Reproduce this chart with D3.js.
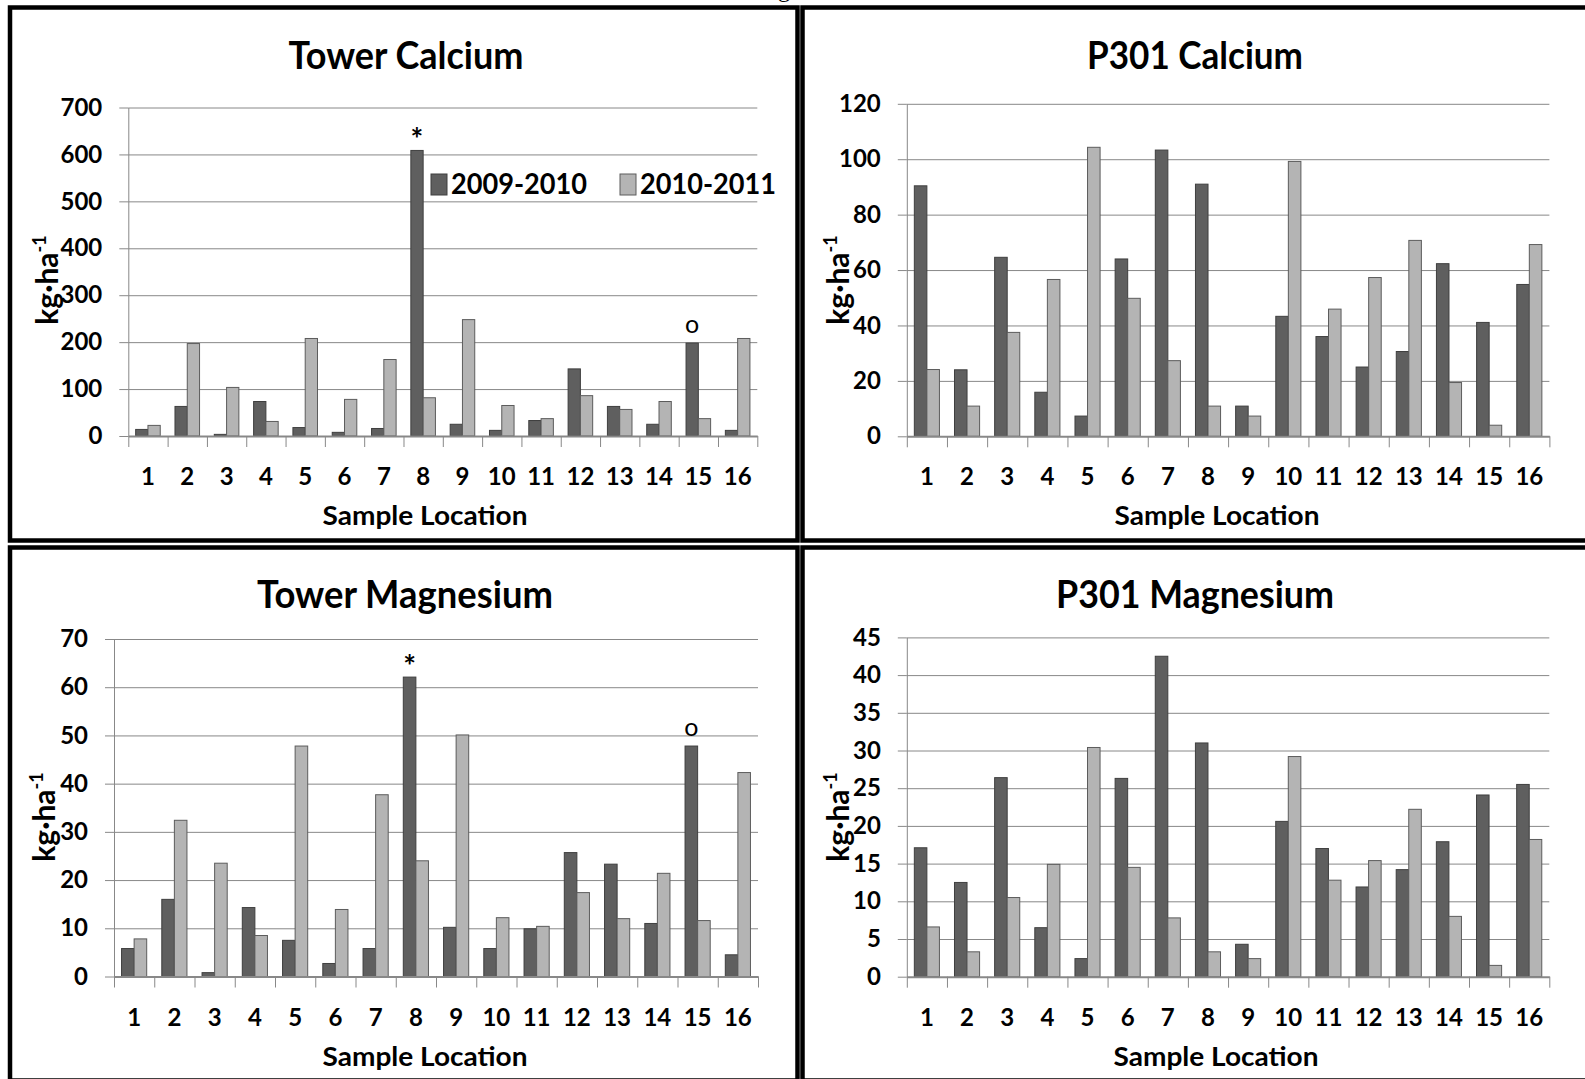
<!DOCTYPE html>
<html>
<head>
<meta charset="utf-8">
<script src="https://cdn.jsdelivr.net/npm/d3@7"></script>
<style>
  body { margin: 0; background: #fff; }
  svg { display: block; }
</style>
</head>
<body>
<svg id="fig" width="1585" height="1079"></svg>
<script>
// categories and series
const locations = ["1","2","3","4","5","6","7","8","9","10","11","12","13","14","15","16"];
const seriesNames = ["2009-2010", "2010-2011"];

// Tower Calcium (kg/ha)
const towerCa0910 = [14, 63, 3.5, 73.5, 18, 7.8, 16, 608.5, 25, 12, 33, 143, 63, 25, 198, 12];
const towerCa1011 = [22.6, 197, 103.5, 31, 207.8, 78, 163, 81.5, 248, 65, 37, 86, 56.6, 73.5, 37, 207.8];

// P301 Calcium
const p301Ca0910 = [90.4, 24, 64.6, 15.9, 7.3, 64, 103.3, 91, 10.9, 43.3, 36, 25, 30.6, 62.3, 41.1, 54.8];
const p301Ca1011 = [24.1, 10.9, 37.5, 56.6, 104.3, 49.8, 27.3, 10.9, 7.3, 99.2, 45.9, 57.3, 70.7, 19.4, 4, 69.2];

// Tower Magnesium
const towerMg0910 = [5.8, 16, 0.8, 14.3, 7.5, 2.7, 5.8, 62.1, 10.2, 5.8, 9.9, 25.7, 23.3, 11, 47.8, 4.5];
const towerMg1011 = [7.8, 32.4, 23.5, 8.5, 47.8, 13.9, 37.7, 24, 50.1, 12.2, 10.4, 17.4, 12, 21.4, 11.6, 42.3];

// P301 Magnesium
const p301Mg0910 = [17.1, 12.5, 26.4, 6.5, 2.4, 26.3, 42.5, 31, 4.3, 20.6, 17, 11.9, 14.2, 17.9, 24.1, 25.5];
const p301Mg1011 = [6.6, 3.3, 10.5, 14.9, 30.4, 14.5, 7.8, 3.3, 2.4, 29.2, 12.8, 15.4, 22.2, 8, 1.5, 18.2];

// tick labels
const towerCaTicks = [0, 100, 200, 300, 400, 500, 600, 700];
const p301CaTicks = [0, 20, 40, 60, 80, 100, 120];
const towerMgTicks = [0, 10, 20, 30, 40, 50, 60, 70];
const p301MgTicks = [0, 5, 10, 15, 20, 25, 30, 35, 40, 45];

// markers over the 2009-2010 bars
const towerMarks = [{loc: "8", sym: "*"}, {loc: "15", sym: "o"}];

const FONT = "Lato, 'Open Sans', sans-serif";
const gridColor = "#888";
const fills = ["#5f5f5f", "#b4b4b4"];
const strokes = ["#3f3f3f", "#5c5c5c"];

const svg = d3.select("#fig");

// panel frames
const frames = [
  {x: 10, y: 7.5, w: 787.5, h: 533},
  {x: 802.5, y: 7.5, w: 800, h: 533},
  {x: 10, y: 547.5, w: 787.5, h: 533},
  {x: 802.5, y: 547.5, w: 800, h: 533}
];
svg.selectAll("rect.frame").data(frames).enter().append("rect")
  .attr("class", "frame")
  .attr("x", d => d.x).attr("y", d => d.y)
  .attr("width", d => d.w).attr("height", d => d.h)
  .attr("fill", "none").attr("stroke", "#000").attr("stroke-width", 4.5);

// tail of a caption glyph cut by the top edge
svg.append("text").attr("x", 778).attr("y", -3)
  .attr("font-family", "'Liberation Serif', serif").attr("font-size", 24).text("g");

function drawPanel(p) {
  const g = svg.append("g");
  const x = d3.scaleBand().domain(locations).range([p.x0, p.x1]);
  const xs = d3.scaleBand().domain(seriesNames).range([0, x.bandwidth()]).paddingOuter(0.6);
  const xEdge = d3.scaleLinear().domain([0, locations.length]).range([p.x0, p.x1]);
  const y = d3.scaleLinear().domain([0, d3.max(p.ticks)]).range([p.y0, p.yTop]);

  // gridlines
  g.append("g").attr("transform", `translate(${p.x0},0)`)
    .call(d3.axisLeft(y).tickValues(p.ticks.slice(1)).tickSize(-(p.x1 - p.x0)).tickFormat(""))
    .call(s => s.select(".domain").remove())
    .selectAll("line").attr("stroke", gridColor);

  // y axis
  const ya = g.append("g").attr("transform", `translate(${p.x0},0)`)
    .call(d3.axisLeft(y).tickValues(p.ticks).tickSize(9).tickPadding(17).tickSizeOuter(0));
  ya.attr("font-family", null).attr("font-size", null);
  ya.select(".domain").attr("stroke", gridColor);
  ya.selectAll("line").attr("stroke", gridColor);
  ya.selectAll("text")
    .attr("font-family", FONT).attr("font-size", 24).attr("font-weight", "bold")
    .attr("fill", "#000");

  // bars
  p.series.forEach((vals, i) => {
    g.append("g").selectAll("rect").data(vals).enter().append("rect")
      .attr("x", (d, j) => x(locations[j]) + xs(seriesNames[i]))
      .attr("y", d => y(d))
      .attr("width", xs.bandwidth())
      .attr("height", d => y(0) - y(d))
      .attr("fill", fills[i]).attr("stroke", strokes[i]).attr("stroke-width", 1);
  });

  // x axis line and boundary ticks
  const xe = g.append("g").attr("transform", `translate(0,${p.y0})`)
    .call(d3.axisBottom(xEdge).tickValues(d3.range(0, locations.length + 1)).tickSize(11).tickSizeOuter(0).tickFormat(""));
  xe.select(".domain").attr("stroke", gridColor).attr("stroke-width", 2);
  xe.selectAll("line").attr("stroke", gridColor);

  // category labels
  const xa = g.append("g").attr("transform", `translate(0,${p.y0})`)
    .call(d3.axisBottom(x).tickSize(0));
  xa.attr("font-family", null).attr("font-size", null);
  xa.select(".domain").remove();
  xa.selectAll("text").attr("dy", null).attr("y", 49)
    .attr("font-family", FONT).attr("font-size", 24).attr("font-weight", "bold")
    .attr("fill", "#000");

  // title
  g.append("text").attr("x", p.titleX).attr("y", p.titleY)
    .attr("text-anchor", "middle")
    .attr("font-family", FONT).attr("font-size", 38).attr("font-weight", "bold")
    .attr("textLength", p.titleW).attr("lengthAdjust", "spacingAndGlyphs")
    .text(p.title);

  // x axis title
  g.append("text").attr("x", p.xlabX).attr("y", p.y0 + 89)
    .attr("text-anchor", "middle")
    .attr("font-family", FONT).attr("font-size", 26).attr("font-weight", "bold")
    .attr("textLength", 205).attr("lengthAdjust", "spacingAndGlyphs")
    .text("Sample Location");

  // y axis title
  const yt = g.append("text")
    .attr("transform", `translate(${p.ylabX},${p.ylabY}) rotate(-90)`)
    .attr("text-anchor", "middle")
    .attr("font-family", FONT).attr("font-size", 30).attr("font-weight", "bold");
  yt.append("tspan").text("kg\u00B7ha");
  yt.append("tspan").attr("font-size", 18).attr("dy", -12).text("-1");

  // markers
  if (p.marks) {
    g.selectAll("text.mark").data(p.marks).enter().append("text")
      .attr("class", "mark")
      .attr("x", d => x(d.loc) + xs(seriesNames[0]) + xs.bandwidth() / 2)
      .attr("y", d => y(p.series[0][locations.indexOf(d.loc)]) - (d.sym === "*" ? 0 : 10))
      .attr("text-anchor", "middle")
      .attr("font-family", FONT)
      .attr("font-weight", d => d.sym === "*" ? "bold" : "normal")
      .attr("font-size", d => d.sym === "*" ? 30 : 25)
      .text(d => d.sym);
  }

  // legend
  if (p.legend) {
    const lg = g.append("g");
    const items = seriesNames.map((s, i) => ({name: s, i: i}));
    const lx = [431, 620];
    lg.selectAll("rect").data(items).enter().append("rect")
      .attr("x", d => lx[d.i]).attr("y", 174)
      .attr("width", 16).attr("height", 21)
      .attr("fill", d => fills[d.i]).attr("stroke", d => strokes[d.i]);
    lg.selectAll("text").data(items).enter().append("text")
      .attr("x", d => lx[d.i] + 20).attr("y", 194)
      .attr("font-family", FONT).attr("font-size", 29).attr("font-weight", "bold")
      .attr("textLength", 136).attr("lengthAdjust", "spacingAndGlyphs")
      .text(d => d.name);
  }
}

drawPanel({title: "Tower Calcium", titleX: 406, titleY: 69, titleW: 235,
  x0: 128.3, x1: 757.3, yTop: 107.5, y0: 436, ticks: towerCaTicks,
  series: [towerCa0910, towerCa1011], ylabX: 58, ylabY: 280, xlabX: 425,
  marks: towerMarks, legend: true});

drawPanel({title: "P301 Calcium", titleX: 1195, titleY: 69, titleW: 216,
  x0: 906.8, x1: 1549.4, yTop: 103.8, y0: 436.3, ticks: p301CaTicks,
  series: [p301Ca0910, p301Ca1011], ylabX: 849, ylabY: 280, xlabX: 1217});

drawPanel({title: "Tower Magnesium", titleX: 405, titleY: 608, titleW: 296,
  x0: 114, x1: 758, yTop: 639, y0: 976.5, ticks: towerMgTicks,
  series: [towerMg0910, towerMg1011], ylabX: 55, ylabY: 817, xlabX: 425,
  marks: towerMarks});

drawPanel({title: "P301 Magnesium", titleX: 1195, titleY: 608, titleW: 278,
  x0: 906.8, x1: 1549.3, yTop: 637.4, y0: 976.7, ticks: p301MgTicks,
  series: [p301Mg0910, p301Mg1011], ylabX: 849, ylabY: 817, xlabX: 1216});
</script>
</body>
</html>
